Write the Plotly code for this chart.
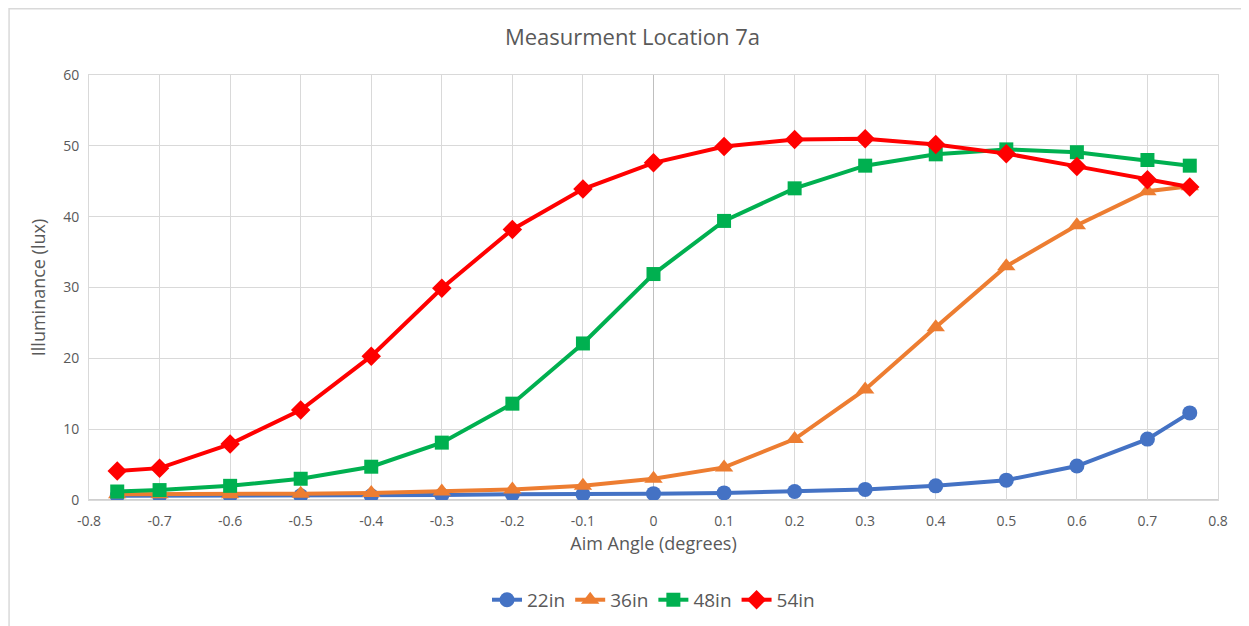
import plotly.graph_objects as go

angles = [-0.76, -0.7, -0.6, -0.5, -0.4, -0.3, -0.2, -0.1, 0, 0.1, 0.2, 0.3, 0.4, 0.5, 0.6, 0.7, 0.76]
s22 = [0.6, 0.6, 0.6, 0.6, 0.6, 0.7, 0.8, 0.8, 0.9, 1.0, 1.2, 1.5, 2.0, 2.8, 4.8, 8.6, 12.3]
s36 = [0.8, 0.8, 0.8, 0.9, 1.0, 1.2, 1.5, 2.0, 3.0, 4.6, 8.6, 15.6, 24.4, 33.0, 38.8, 43.6, 44.3]
s48 = [1.2, 1.4, 2.0, 3.0, 4.7, 8.1, 13.6, 22.1, 31.9, 39.4, 44.0, 47.2, 48.8, 49.5, 49.1, 48.0, 47.2]
s54 = [4.1, 4.5, 7.9, 12.7, 20.3, 29.9, 38.2, 43.9, 47.6, 49.9, 50.9, 51.0, 50.2, 48.9, 47.1, 45.2, 44.2]

x_tick_vals = [-0.8, -0.7, -0.6, -0.5, -0.4, -0.3, -0.2, -0.1, 0, 0.1, 0.2, 0.3, 0.4, 0.5, 0.6, 0.7, 0.8]
x_tick_text = ["-0.8", "-0.7", "-0.6", "-0.5", "-0.4", "-0.3", "-0.2", "-0.1", "0",
               "0.1", "0.2", "0.3", "0.4", "0.5", "0.6", "0.7", "0.8"]

series = [
    ("22in", s22, "#4472C4", "circle", 15),
    ("36in", s36, "#ED7D31", "triangle-up", 16),
    ("48in", s48, "#00B050", "square", 14),
    ("54in", s54, "#FF0000", "diamond", 15),
]

fig = go.Figure()
for name, vals, color, sym, size in series:
    fig.add_trace(go.Scatter(
        x=angles, y=vals, name=name, mode="lines+markers",
        line=dict(color=color, width=4),
        marker=dict(symbol=sym, size=size, color=color),
    ))

font_color = "#595959"
fig.update_layout(
    width=1249, height=626,
    margin=dict(l=81, r=39, t=67, b=134),
    paper_bgcolor="white", plot_bgcolor="white",
    font=dict(family="Open Sans, Liberation Sans, sans-serif", color=font_color, size=13),
    title=dict(text="Measurment Location 7a", x=0.5, xanchor="center", y=0.953, yanchor="middle",
               font=dict(size=22, color=font_color)),
    showlegend=True,
    legend=dict(orientation="h", x=0.5, xanchor="center", y=-0.235, yanchor="middle",
                font=dict(size=19, color=font_color), tracegroupgap=0),
    xaxis=dict(range=[-0.8, 0.8], tickvals=x_tick_vals, ticktext=x_tick_text,
               showgrid=True, gridcolor="#d9d9d9",
               gridwidth=1, zeroline=True, zerolinecolor="#bfbfbf", zerolinewidth=1,
               showline=True, linecolor="#d9d9d9", mirror=True,
               ticks="outside", ticklen=8, tickcolor="rgba(0,0,0,0)",
               tickfont=dict(size=14, color=font_color),
               title=dict(text="Aim Angle (degrees)", font=dict(size=18, color=font_color), standoff=8)),
    yaxis=dict(range=[0, 60], dtick=10, showgrid=True, gridcolor="#d9d9d9", gridwidth=1,
               zeroline=False, showline=True, linecolor="#d9d9d9", mirror=True,
               ticks="outside", ticklen=6, tickcolor="rgba(0,0,0,0)",
               tickfont=dict(size=14, color=font_color),
               title=dict(text="Illuminance (lux)", font=dict(size=18, color=font_color), standoff=12)),
    shapes=[
        dict(type="line", xref="paper", yref="y", x0=0, x1=1, y0=0, y1=0,
             line=dict(color="#bfbfbf", width=1.5), layer="below"),
        dict(type="rect", xref="paper", yref="paper", x0=-0.0708, x1=1.0239, y0=-0.36, y1=1.1559,
             line=dict(color="#d9d9d9", width=1.5), fillcolor="rgba(0,0,0,0)"),
    ],
)

fig.write_html("out.html")
